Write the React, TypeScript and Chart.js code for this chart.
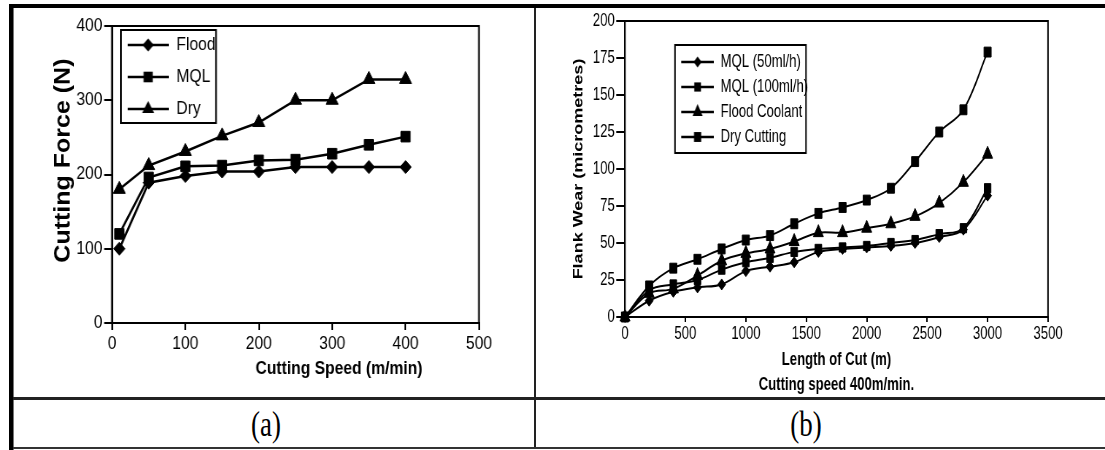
import React, { useEffect, useRef } from 'react';
import { Chart, registerables } from 'chart.js';

Chart.register(...registerables);

const FONT = "'Liberation Sans', Arial, Helvetica, sans-serif";
Chart.defaults.font.family = FONT;
Chart.defaults.color = '#000';

// ---------- Chart (a) data ----------
const speedA = [10, 50, 100, 150, 200, 250, 300, 350, 400];
const floodA = [100, 189, 198, 204, 204, 210, 210, 210, 210];
const mqlA = [120, 196, 211, 212, 219, 220, 228, 240, 251];
const dryA = [180, 212, 231, 252, 270, 300, 300, 328, 328];
const labelsA = ['Flood', 'MQL', 'Dry'];
const xTitleA = 'Cutting Speed (m/min)';
const yTitleA = 'Cutting Force (N)';

// ---------- Chart (b) data ----------
const lengthB = [0, 200, 400, 600, 800, 1000, 1200, 1400, 1600, 1800, 2000, 2200, 2400, 2600, 2800, 3000];
const mql50B = [0, 11, 17, 20, 22, 31, 34, 37, 44, 46, 47, 48, 50, 54, 59, 82];
const mql100B = [0, 18, 22, 25, 32, 37, 40, 44, 46, 47, 48, 50, 52, 56, 60, 87];
const floodB = [0, 16, 19, 28, 38, 43, 46, 51, 57, 57, 60, 63, 68, 77, 91, 110];
const dryB = [0, 21, 33, 39, 46, 52, 55, 63, 70, 74, 79, 87, 105, 125, 140, 179];
const labelsB = ['MQL (50ml/h)', 'MQL (100ml/h)', 'Flood Coolant', 'Dry Cutting'];
const xTitleB = ['Length of Cut (m)', 'Cutting speed 400m/min.'];
const yTitleB = 'Flank Wear (micrometres)';

const captions = ['(a)', '(b)'];

const pts = (xs: number[], ys: number[]) => xs.map((x, i) => ({ x, y: ys[i] }));
const plain = (v: any) => String(v);

function makeIcon(style: string, r: number, pad: number, len: number, lw: number) {
  const c = document.createElement('canvas');
  const h = 26;
  c.width = pad + len;
  c.height = h;
  const ctx = c.getContext('2d')!;
  const cy = h / 2;
  ctx.strokeStyle = '#000';
  ctx.fillStyle = '#000';
  ctx.lineWidth = lw;
  ctx.beginPath();
  ctx.moveTo(pad, cy);
  ctx.lineTo(pad + len, cy);
  ctx.stroke();
  const cx = pad + len / 2;
  ctx.beginPath();
  if (style === 'rectRot') {
    ctx.moveTo(cx, cy - r);
    ctx.lineTo(cx + r, cy);
    ctx.lineTo(cx, cy + r);
    ctx.lineTo(cx - r, cy);
  } else if (style === 'rect') {
    const s = r * Math.SQRT1_2;
    ctx.rect(cx - s, cy - s, 2 * s, 2 * s);
  } else {
    for (let k = 0; k < 3; k++) {
      const a = (k * 2 * Math.PI) / 3;
      const px = cx + Math.sin(a) * r;
      const py = cy - Math.cos(a) * r;
      if (k === 0) ctx.moveTo(px, py);
      else ctx.lineTo(px, py);
    }
  }
  ctx.closePath();
  ctx.fill();
  return c;
}

const plotBox = {
  id: 'plotBox',
  beforeDatasetsDraw(chart: any) {
    const { ctx, chartArea } = chart;
    ctx.save();
    ctx.strokeStyle = '#000';
    ctx.lineWidth = 2;
    ctx.strokeRect(chartArea.left, chartArea.top, chartArea.right - chartArea.left, chartArea.bottom - chartArea.top);
    ctx.restore();
  },
};

const legendFrame = {
  id: 'legendFrame',
  afterDraw(chart: any, _args: any, opts: any) {
    const { ctx, chartArea } = chart;
    ctx.save();
    ctx.strokeStyle = '#000';
    ctx.lineWidth = 2;
    ctx.strokeRect(chartArea.left + opts.dx0, chartArea.top + opts.dy0, opts.dx1 - opts.dx0, opts.dy1 - opts.dy0);
    ctx.restore();
  },
};

function tickAxis(tickLength: number, extra: any) {
  return {
    type: 'linear',
    grid: { display: true, drawOnChartArea: false, drawTicks: true, tickLength, color: '#000', lineWidth: 2 },
    border: { display: true, color: '#000', width: 2 },
    ...extra,
  };
}

const tickFont = { size: 18, family: FONT };

function configA(): any {
  const styles = ['rectRot', 'rect', 'triangle'];
  const radii = [6.5, 7.5, 8];
  const series = [floodA, mqlA, dryA];
  const icons = styles.map((s, i) => makeIcon(s, radii[i], 4, 47, 2.5));
  return {
    type: 'line',
    data: {
      datasets: series.map((ys, i) => ({
        label: labelsA[i],
        data: pts(speedA, ys),
        borderColor: '#000',
        backgroundColor: '#000',
        borderWidth: 2.5,
        pointStyle: styles[i],
        pointRadius: radii[i],
        pointBackgroundColor: '#000',
        pointBorderColor: '#000',
        pointBorderWidth: 1,
        tension: 0,
        clip: false,
      })),
    },
    options: {
      responsive: false,
      animation: false,
      devicePixelRatio: 1,
      layout: { padding: { left: 0, top: 18, right: 63.3, bottom: 0 } },
      plugins: {
        tooltip: { enabled: false },
        legend: {
          position: 'chartArea',
          align: 'start',
          title: { display: true, text: '', font: { size: 10 }, padding: { top: 2, bottom: 0 } },
          labels: {
            color: '#000',
            font: { size: 18, family: FONT },
            padding: 14,
            usePointStyle: true,
            pointStyleWidth: 51,
            generateLabels: (chart: any) =>
              Chart.defaults.plugins.legend.labels.generateLabels(chart).map((it: any, i: number) => ({ ...it, pointStyle: icons[i] })),
          },
        },
        legendFrame: { dx0: 10.3, dx1: 119.6, dy0: 4, dy1: 97 },
      },
      scales: {
        x: tickAxis(7, {
          min: 0,
          max: 500,
          ticks: { color: '#000', font: tickFont, padding: 3, stepSize: 100, autoSkip: false, maxRotation: 0, callback: plain },
          title: {
            display: true,
            text: '                    ' + xTitleA,
            color: '#000',
            font: { size: 18, weight: 'bold', family: FONT },
            padding: { top: 0, bottom: 18 },
          },
          afterFit: (s: any) => { s.height = 75; },
        }),
        y: tickAxis(9, {
          min: 0,
          max: 400,
          ticks: { color: '#000', font: tickFont, padding: 2, stepSize: 100, autoSkip: false, callback: plain },
          title: {
            display: true,
            text: '    ' + yTitleA,
            color: '#000',
            font: { size: 25, weight: 'bold', family: FONT },
            padding: { top: 42.5, bottom: 0 },
          },
          afterFit: (s: any) => { s.width = 112.7; },
        }),
      },
    },
    plugins: [plotBox, legendFrame],
  };
}

function configB(): any {
  const styles = ['rectRot', 'rect', 'triangle', 'rect'];
  const radii = [5.5, 6.5, 8, 7];
  const series = [mql50B, mql100B, floodB, dryB];
  const icons = styles.map((s, i) => makeIcon(s, radii[i], 70, 45, 2.5));
  return {
    type: 'line',
    data: {
      datasets: series.map((ys, i) => ({
        label: labelsB[i],
        data: pts(lengthB, ys),
        borderColor: '#000',
        backgroundColor: '#000',
        borderWidth: 2,
        pointStyle: styles[i],
        pointRadius: radii[i],
        pointBackgroundColor: '#000',
        pointBorderColor: '#000',
        pointBorderWidth: 1,
        tension: 0.35,
        clip: false,
      })),
    },
    options: {
      responsive: false,
      animation: false,
      devicePixelRatio: 1,
      layout: { padding: { left: 0, top: 13, right: 78.1, bottom: 0 } },
      plugins: {
        tooltip: { enabled: false },
        legend: {
          position: 'chartArea',
          align: 'start',
          title: { display: true, text: '', font: { size: 10 }, padding: { top: 26, bottom: 0 } },
          labels: {
            color: '#000',
            font: { size: 18, family: FONT },
            padding: 7,
            usePointStyle: true,
            pointStyleWidth: 115,
            generateLabels: (chart: any) =>
              Chart.defaults.plugins.legend.labels.generateLabels(chart).map((it: any, i: number) => ({ ...it, pointStyle: icons[i] })),
          },
        },
        legendFrame: { dx0: 68.5, dx1: 248, dy0: 24, dy1: 132 },
      },
      scales: {
        x: tickAxis(5, {
          min: 0,
          max: 3500,
          ticks: { color: '#000', font: tickFont, padding: 1, stepSize: 500, autoSkip: false, maxRotation: 0, callback: plain },
          title: {
            display: true,
            text: xTitleB,
            color: '#000',
            font: { size: 18, weight: 'bold', family: FONT, lineHeight: '25px' },
            padding: { top: 0, bottom: 0 },
          },
          afterFit: (s: any) => { s.height = 81; },
        }),
        y: tickAxis(12, {
          min: 0,
          max: 200,
          ticks: { color: '#000', font: tickFont, padding: 2, stepSize: 25, autoSkip: false, callback: plain },
          title: {
            display: true,
            text: yTitleB,
            color: '#000',
            font: { size: 18, weight: 'bold', family: FONT },
            padding: { top: 49.5, bottom: 0 },
          },
          afterFit: (s: any) => { s.width = 123.3; },
        }),
      },
    },
    plugins: [plotBox, legendFrame],
  };
}

function ChartCanvas(props: { make: () => any; left: number; top: number; cssWidth: number; width: number; height: number }) {
  const ref = useRef<HTMLCanvasElement>(null);
  useEffect(() => {
    const chart = new Chart(ref.current as HTMLCanvasElement, props.make());
    return () => chart.destroy();
  }, []);
  return (
    <canvas
      ref={ref}
      width={props.width}
      height={props.height}
      style={{ position: 'absolute', left: props.left, top: props.top, width: props.cssWidth, height: props.height }}
    />
  );
}

const line = (left: number, top: number, width: number, height: number, bg = '#000') => (
  <div style={{ position: 'absolute', left, top, width, height, background: bg }} />
);

export default function App() {
  const capStyle = (left: number): React.CSSProperties => ({
    position: 'absolute',
    left,
    top: 407,
    width: 100,
    height: 36,
    lineHeight: '36px',
    fontSize: 35,
    fontFamily: "'Liberation Serif', 'Times New Roman', serif",
    textAlign: 'center',
    transform: 'scaleX(0.77)',
    color: '#000',
  });
  return (
    <div style={{ position: 'absolute', left: 0, top: 0, width: 1105, height: 450, background: '#fff', overflow: 'hidden' }}>
      {line(9, 4, 1096, 4)}
      {line(9, 4, 4, 446)}
      {line(13, 8, 1, 442, '#777')}
      {line(534, 8, 2, 440, '#222')}
      {line(13, 397, 1092, 3, '#222')}
      {line(13, 447, 1092, 2, '#333')}
      <ChartCanvas make={configA} left={14} top={8} cssWidth={520} width={598} height={390} />
      <ChartCanvas make={configB} left={535} top={8} cssWidth={570} width={781} height={390} />
      <div style={capStyle(216)}>{captions[0]}</div>
      <div style={capStyle(756)}>{captions[1]}</div>
    </div>
  );
}
